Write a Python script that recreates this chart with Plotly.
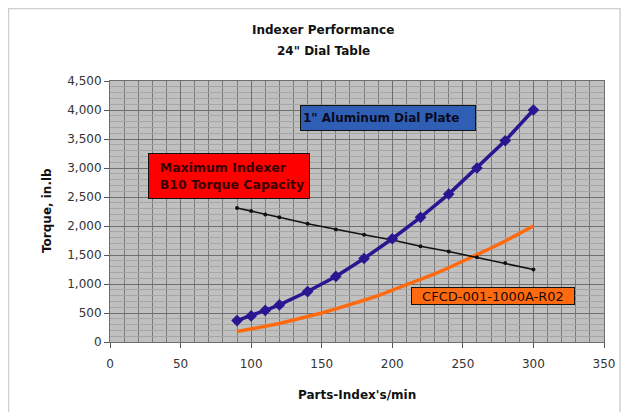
import plotly.graph_objects as go

# ---- data ----
speed_pts = [90, 100, 110, 120, 140, 160, 180, 200, 220, 240, 260, 280, 300]
aluminum_torque = [370, 450, 545, 640, 870, 1130, 1440, 1780, 2150, 2550, 3000, 3470, 4000]
capacity_torque = [2310, 2260, 2200, 2150, 2040, 1940, 1850, 1760, 1650, 1560, 1460, 1360, 1250]
speed_fine = [90, 100, 110, 120, 130, 140, 150, 160, 170, 180, 190, 200, 210, 220, 230, 240, 250, 260, 270, 280, 290, 300]
cfcd_torque = [180, 220, 270, 320, 375, 435, 500, 570, 640, 720, 800, 890, 980, 1075, 1175, 1280, 1390, 1500, 1620, 1740, 1870, 2000]

x_ticks = [0, 50, 100, 150, 200, 250, 300, 350]
y_ticks = [0, 500, 1000, 1500, 2000, 2500, 3000, 3500, 4000, 4500]
y_tick_text = ["0", "500", "1,000", "1,500", "2,000", "2,500", "3,000", "3,500", "4,000", "4,500"]

title_lines = ["Indexer Performance", "24\" Dial Table"]
x_title = "Parts-Index's/min"
y_title = "Torque, in.lb"
label_aluminum = "1\" Aluminum Dial Plate"
label_capacity = ["Maximum Indexer", "B10 Torque Capacity"]
label_cfcd = "CFCD-001-1000A-R02"

FONT = "DejaVu Sans, Arial, sans-serif"

fig = go.Figure()
fig.add_trace(go.Scatter(x=speed_fine, y=cfcd_torque, mode="lines",
                         line=dict(color="#FF6A10", width=3.5), showlegend=False))
fig.add_trace(go.Scatter(x=speed_pts, y=capacity_torque, mode="lines+markers",
                         line=dict(color="#111111", width=1.6),
                         marker=dict(symbol="circle", size=4, color="#111111"), showlegend=False))
fig.add_trace(go.Scatter(x=speed_pts, y=aluminum_torque, mode="lines+markers",
                         line=dict(color="#2A1690", width=3.5),
                         marker=dict(symbol="diamond", size=9, color="#2A1690"), showlegend=False))

# page body has an 8px default margin; the figure is sized to fit inside it
OFF = 8
PAGE_W, PAGE_H = 629, 420
W, H = PAGE_W - 2 * OFF, PAGE_H - 2 * OFF
# plot area in page pixels
L, R, T, B = 110, 604, 81, 342
pw, ph = R - L, B - T


def px(x):
    return (x - L) / pw


def py(y):
    return (B - y) / ph


sp = "&nbsp;&nbsp;"
annotations = [
    dict(text="<b>" + label_aluminum + "</b>", xref="paper", yref="paper",
         x=px(300), y=py(105), xanchor="left", yanchor="top", showarrow=False,
         bgcolor="#2F5FB5", bordercolor="#111111", borderwidth=1, borderpad=2,
         width=170, height=20, align="left",
         font=dict(family=FONT, size=12, color="#0a0a20")),
    dict(text="<b>" + sp + label_capacity[0] + "<br>" + sp + label_capacity[1] + "</b>",
         xref="paper", yref="paper",
         x=px(148), y=py(153), xanchor="left", yanchor="top", showarrow=False,
         bgcolor="#FF0000", bordercolor="#111111", borderwidth=1, borderpad=2,
         width=156, height=40, align="left",
         font=dict(family=FONT, size=12.5, color="#3a0000")),
    dict(text=label_cfcd, xref="paper", yref="paper",
         x=px(411), y=py(287), xanchor="left", yanchor="top", showarrow=False,
         bgcolor="#FF6A10", bordercolor="#111111", borderwidth=1, borderpad=1,
         width=160, height=14, align="center",
         font=dict(family=FONT, size=13, color="#1a0a00")),
    dict(text="<b>" + title_lines[0] + "</b>", xref="paper", yref="paper",
         x=px(323), y=py(30), xanchor="center", yanchor="middle", showarrow=False,
         font=dict(family=FONT, size=12, color="#111111")),
    dict(text="<b>" + title_lines[1] + "</b>", xref="paper", yref="paper",
         x=px(323), y=py(51), xanchor="center", yanchor="middle", showarrow=False,
         font=dict(family=FONT, size=12, color="#111111")),
    dict(text="<b>" + x_title + "</b>", xref="paper", yref="paper",
         x=px(357), y=py(395), xanchor="center", yanchor="middle", showarrow=False,
         font=dict(family=FONT, size=12, color="#111111")),
    dict(text="<b>" + y_title + "</b>", xref="paper", yref="paper",
         x=px(47), y=py(210), xanchor="center", yanchor="middle", showarrow=False,
         textangle=-90, font=dict(family=FONT, size=12, color="#111111")),
]

shapes = [
    dict(type="rect", xref="paper", yref="paper",
         x0=px(OFF + 0.5), x1=px(620), y0=py(414), y1=py(OFF + 0.5),
         line=dict(color="#cfcfcf", width=1.5), fillcolor="rgba(0,0,0,0)", layer="below"),
]

fig.update_layout(
    width=W, height=H, autosize=False,
    margin=dict(l=L - OFF, r=(W + OFF) - R, t=T - OFF, b=(H + OFF) - B, pad=0, autoexpand=False),
    paper_bgcolor="white", plot_bgcolor="#C0C0C0",
    font=dict(family=FONT, size=12, color="#222222"),
    annotations=annotations, shapes=shapes, showlegend=False,
)

fig.update_xaxes(range=[0, 350], tickvals=x_ticks, ticks="outside", ticklen=5, tickcolor="#555555",
                 automargin=False, ticklabelstandoff=6,
                 showgrid=True, gridcolor="#6e6e6e", gridwidth=1,
                 minor=dict(dtick=10, showgrid=True, gridcolor="#7a7a7a", gridwidth=1),
                 showline=True, linecolor="#6e6e6e", linewidth=1, mirror=True,
                 zeroline=False, tickfont=dict(size=12, color="#333333"))
fig.update_yaxes(range=[0, 4500], tickvals=y_ticks, ticktext=y_tick_text, ticks="outside", ticklen=5,
                 tickcolor="#555555", automargin=False,
                 showgrid=True, gridcolor="#6e6e6e", gridwidth=1,
                 minor=dict(dtick=100, showgrid=True, gridcolor="#a6a6a6", gridwidth=1),
                 showline=True, linecolor="#6e6e6e", linewidth=1, mirror=True,
                 zeroline=False, tickfont=dict(size=12, color="#333333"))

fig.write_html("out.html")
